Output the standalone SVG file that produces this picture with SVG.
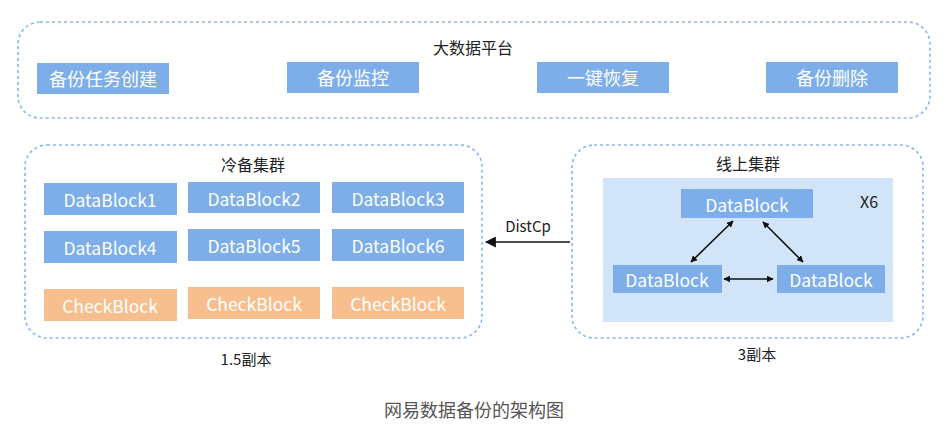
<svg xmlns="http://www.w3.org/2000/svg" width="947" height="430" viewBox="0 0 947 430">
<style>
.cont{fill:none;stroke:#86b6ec;stroke-width:1.6;stroke-dasharray:3 3}
.blue{fill:#7eaee9}
.orange{fill:#f6bf8d}
.panel{fill:#d2e4f8}
.wt{fill:#ffffff;font-family:"Noto Sans CJK SC","Liberation Sans",sans-serif;font-size:17.5px;text-anchor:middle;dominant-baseline:central}
.ct{fill:#ffffff;font-family:"Noto Sans CJK SC",sans-serif;font-size:18px;text-anchor:middle;dominant-baseline:central}
.bt{fill:#222;font-family:"Noto Sans CJK SC","Liberation Sans",sans-serif;font-size:16px;text-anchor:middle;dominant-baseline:central}
.cap{fill:#555;font-family:"Noto Sans CJK SC",sans-serif;font-size:18px;text-anchor:middle;dominant-baseline:central}
.ln{stroke:#111;stroke-width:1.6;fill:none}
</style>
<defs>
<marker id="ah" viewBox="0 0 10 10" refX="9" refY="5" markerWidth="7" markerHeight="7" markerUnits="userSpaceOnUse" orient="auto-start-reverse">
<path d="M0,0 L10,5 L0,10 z" fill="#111"/>
</marker>
<marker id="ahb" viewBox="0 0 10 10" refX="9" refY="5" markerWidth="11" markerHeight="11" markerUnits="userSpaceOnUse" orient="auto-start-reverse">
<path d="M0,0 L10,5 L0,10 z" fill="#111"/>
</marker>
</defs>

<g id="platform">
<rect class="cont" x="18" y="22" width="912" height="96" rx="22"/>
<text class="bt" x="473" y="47">大数据平台</text>
</g>
<g id="backup-create"><rect class="blue" x="37" y="63" width="132" height="31"/><text class="ct" x="103" y="78">备份任务创建</text></g>
<g id="backup-monitor"><rect class="blue" x="287" y="62" width="132" height="31"/><text class="ct" x="353" y="77">备份监控</text></g>
<g id="one-click-restore"><rect class="blue" x="537" y="62" width="132" height="31"/><text class="ct" x="603" y="77">一键恢复</text></g>
<g id="backup-delete"><rect class="blue" x="766" y="62" width="132" height="31"/><text class="ct" x="832" y="77">备份删除</text></g>

<g id="cold-cluster">
<rect class="cont" x="25" y="145" width="457" height="193" rx="22"/>
<text class="bt" x="253" y="164">冷备集群</text>
</g>
<g id="db1"><rect class="blue" x="44" y="183" width="133" height="32"/><text class="wt" x="110" y="199">DataBlock1</text></g>
<g id="db2"><rect class="blue" x="188" y="182" width="132" height="31"/><text class="wt" x="254" y="198">DataBlock2</text></g>
<g id="db3"><rect class="blue" x="332" y="182" width="132" height="31"/><text class="wt" x="398" y="198">DataBlock3</text></g>
<g id="db4"><rect class="blue" x="44" y="231" width="133" height="32"/><text class="wt" x="110" y="247">DataBlock4</text></g>
<g id="db5"><rect class="blue" x="188" y="229" width="132" height="32"/><text class="wt" x="254" y="245">DataBlock5</text></g>
<g id="db6"><rect class="blue" x="332" y="229" width="132" height="32"/><text class="wt" x="398" y="245">DataBlock6</text></g>
<g id="cb1"><rect class="orange" x="44" y="289" width="133" height="32"/><text class="wt" x="110" y="305">CheckBlock</text></g>
<g id="cb2"><rect class="orange" x="188" y="287" width="132" height="32"/><text class="wt" x="254" y="303">CheckBlock</text></g>
<g id="cb3"><rect class="orange" x="332" y="287" width="132" height="32"/><text class="wt" x="398" y="303">CheckBlock</text></g>
<text class="bt" x="246" y="358" style="font-size:15px">1.5副本</text>

<g id="online-cluster">
<rect class="cont" x="572" y="145" width="351" height="193" rx="22"/>
<text class="bt" x="748" y="163">线上集群</text>
<rect class="panel" x="603" y="178" width="290" height="144"/>
<text class="bt" x="869" y="201">X6</text>
</g>
<g id="odb-top"><rect class="blue" x="681" y="189" width="132" height="29"/><text class="wt" x="747" y="204">DataBlock</text></g>
<g id="odb-left"><rect class="blue" x="613" y="265" width="109" height="28"/><text class="wt" x="667" y="279">DataBlock</text></g>
<g id="odb-right"><rect class="blue" x="777" y="265" width="108" height="28"/><text class="wt" x="831" y="279">DataBlock</text></g>
<text class="bt" x="757" y="353" style="font-size:15px">3副本</text>

<g id="connectors">
<line class="ln" x1="570" y1="242" x2="486" y2="242" marker-end="url(#ahb)"/>
<text class="bt" x="528" y="225" style="font-size:15px">DistCp</text>
<line class="ln" x1="733" y1="221" x2="691" y2="262" marker-start="url(#ah)" marker-end="url(#ah)"/>
<line class="ln" x1="763" y1="222" x2="803" y2="262" marker-start="url(#ah)" marker-end="url(#ah)"/>
<line class="ln" x1="724" y1="279" x2="773" y2="279" marker-start="url(#ah)" marker-end="url(#ah)"/>
</g>

<text class="cap" x="474" y="409">网易数据备份的架构图</text>
</svg>
